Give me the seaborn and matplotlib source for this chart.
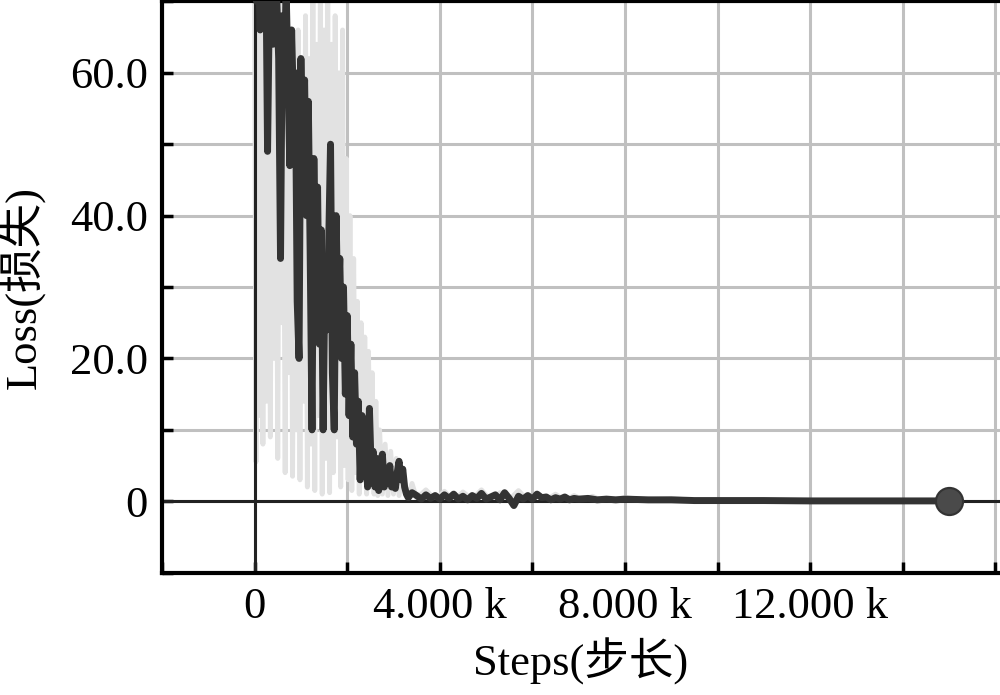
import numpy as np
import pandas as pd
import seaborn as sns
from matplotlib import pyplot as plt

# smoothed loss (dark curve)
smooth_steps = [0, 40, 80, 120, 160, 200, 240, 280, 320, 360, 400, 440, 480, 520, 560,
                600, 640, 680, 720, 760, 800, 840, 880, 920, 960, 1000, 1040, 1080, 1120,
                1160, 1200, 1240, 1280, 1320, 1360, 1400, 1440, 1480, 1520, 1560, 1600,
                1640, 1680, 1720, 1760, 1800, 1840, 1880, 1920, 1960, 2000, 2040, 2080,
                2120, 2160, 2200, 2240, 2280, 2320, 2360, 2400, 2440, 2480, 2520, 2560,
                2600, 2640, 2680, 2720, 2760, 2800, 2840, 2880, 2920, 2960, 3000, 3040,
                3080, 3120, 3160, 3200, 3240, 3280, 3320, 3400, 3500, 3600, 3700, 3800,
                3900, 4000, 4100, 4200, 4300, 4400, 4500, 4600, 4700, 4800, 4900, 5000,
                5100, 5200, 5300, 5400, 5500, 5600, 5700, 5800, 5900, 6000, 6100, 6200,
                6300, 6400, 6500, 6600, 6700, 6800, 6900, 7000, 7200, 7400, 7600, 7800,
                8000, 8500, 9000, 9500, 10000, 11000, 12000, 13000, 14000, 15000]
smooth_loss = [80, 70, 76, 66, 74, 72, 78, 49, 71, 75, 64, 73, 70, 62, 34,
               68, 58, 72, 60, 47, 66, 55, 60, 28, 20, 62, 45, 59, 40,
               56, 35, 10, 48, 30, 44, 22, 38, 10, 32, 24, 36,
               50, 18, 10, 40, 26, 34, 20, 30, 15, 26, 12, 22,
               9, 18, 8, 14, 3, 12, 5, 8, 2, 13, 4, 7,
               2, 6, 1.5, 4, 6.6, 2, 4.5, 2.5, 5, 2, 3.5, 1.8,
               4, 5.6, 3, 4.5, 2, 1, 0.5, 1.2, 0.8, 0.3, 0.9, 0.4,
               0.8, 0.3, 0.9, 0.4, 1.0, 0.3, 0.7, 0.2, 0.8, 0.4, 1.1, 0.3,
               0.6, 0.9, 0.2, 1.2, 0.4, -0.6, 0.7, 0.3, 0.8, 0.3, 1.0, 0.5,
               0.6, 0.2, 0.5, 0.3, 0.6, 0.2, 0.4, 0.3, 0.4, 0.2, 0.3, 0.2,
               0.3, 0.2, 0.2, 0.1, 0.1, 0.1, 0.05, 0.05, 0.05, 0.05]

# raw loss (light band)
raw_steps = [0, 30, 60, 100, 140, 180, 220, 260, 300, 340, 380, 420, 460, 500, 540,
             580, 620, 660, 700, 740, 780, 820, 860, 900, 940, 980, 1020, 1060, 1100,
             1140, 1180, 1220, 1260, 1300, 1340, 1380, 1420, 1460, 1500, 1540, 1580,
             1620, 1660, 1700, 1740, 1780, 1820, 1860, 1900, 1940, 1980, 2020, 2060,
             2100, 2140, 2180, 2220, 2260, 2300, 2340, 2380, 2420, 2460, 2500, 2540,
             2580, 2620, 2660, 2700, 2760, 2820, 2880, 2940, 3000, 3060, 3120, 3200,
             3300, 3400, 3500, 3700, 3900, 4100, 4300, 4500, 4700, 4900, 5100, 5300,
             5500, 5700, 5900, 6100, 6300, 6500, 6700, 6900, 7100, 7300, 7500, 8000,
             8500, 9000, 9500]
raw_loss = [72, 5.5, 74, 12, 70, 8, 75, 14, 66, 9, 72, 20, 68, 6, 70,
            25, 60, 4, 72, 18, 64, 3.5, 58, 10, 66, 3, 60, 14, 68,
            2, 62, 8, 70, 1.5, 64, 12, 72, 1, 66, 6, 70,
            1.2, 64, 4, 68, 9, 60, 2, 66, 5, 48, 3, 40,
            1.5, 34, 4, 28, 1, 25, 3, 23, 1, 21, 2, 18,
            1, 14, 0.8, 10, 1, 8, 0.8, 7, 1, 6, 0.8, 4,
            0.6, 2.5, 0.4, 1.6, 0.2, 1.4, 0.1, 1.3, 0.3, 1.6, 0.1, 1.2,
            0.2, 1.5, 0.1, 1.1, 0.2, 1.0, 0.1, 0.8, 0.2, 0.7, 0.1, 0.5,
            0.2, 0.4, 0.1]

final_step = [15000]
final_loss = [0]

x_ticks = [-2000, 0, 2000, 4000, 6000, 8000, 10000, 12000, 14000, 16000]
x_labels = ["", "0", "", "4.000 k", "", "8.000 k", "", "12.000 k", "", ""]
y_ticks = [-10, 0, 10, 20, 30, 40, 50, 60, 70]
y_labels = ["", "0", "", "20.0", "", "40.0", "", "60.0", ""]

sns.set_theme(style="white")
plt.rcParams["font.family"] = ["Liberation Serif", "Noto Sans CJK SC"]
plt.rcParams["text.color"] = "black"
plt.rcParams["axes.labelcolor"] = "black"
plt.rcParams["xtick.color"] = "black"
plt.rcParams["ytick.color"] = "black"

fig = plt.figure(figsize=(10, 6.95), dpi=100)
ax = fig.add_axes([0.162, 0.176, 0.838, 0.822])

raw = pd.DataFrame({"step": raw_steps, "loss": raw_loss})
smooth = pd.DataFrame({"step": smooth_steps, "loss": smooth_loss})

ax.axhline(0, color="#222222", lw=2.2, zorder=2.5)
ax.axvline(0, color="#222222", lw=2.2, zorder=2.5)

sns.lineplot(data=raw, x="step", y="loss", estimator=None, sort=False,
             color="#e2e2e2", lw=3.5, ax=ax, zorder=2)
sns.lineplot(data=smooth, x="step", y="loss", estimator=None, sort=False,
             color="#333333", lw=5, ax=ax, zorder=3)
sns.scatterplot(x=final_step, y=final_loss, s=380, color="#4a4a4a",
                edgecolor="#333333", ax=ax, zorder=4)

ax.set_xlim(-2000, 16100)
ax.set_ylim(-10, 70)
ax.set_xticks(x_ticks, x_labels)
ax.set_yticks(y_ticks, y_labels)
ax.grid(True, color="#c0c0c0", lw=2.2)
ax.set_axisbelow(True)

ax.tick_params(direction="in", length=8, width=2.5, labelsize=32,
               bottom=True, left=True)
ax.tick_params(axis="y", pad=10)
ax.tick_params(axis="x", pad=10)
for side in ["left", "bottom", "top"]:
    ax.spines[side].set_color("black")
    ax.spines[side].set_linewidth(3)
ax.spines["right"].set_visible(False)

ax.set_xlabel("Steps(步长)", fontsize=32, labelpad=8)
ax.set_ylabel("Loss(损失)", fontsize=32, labelpad=18)

plt.savefig("out.png", dpi=100)
